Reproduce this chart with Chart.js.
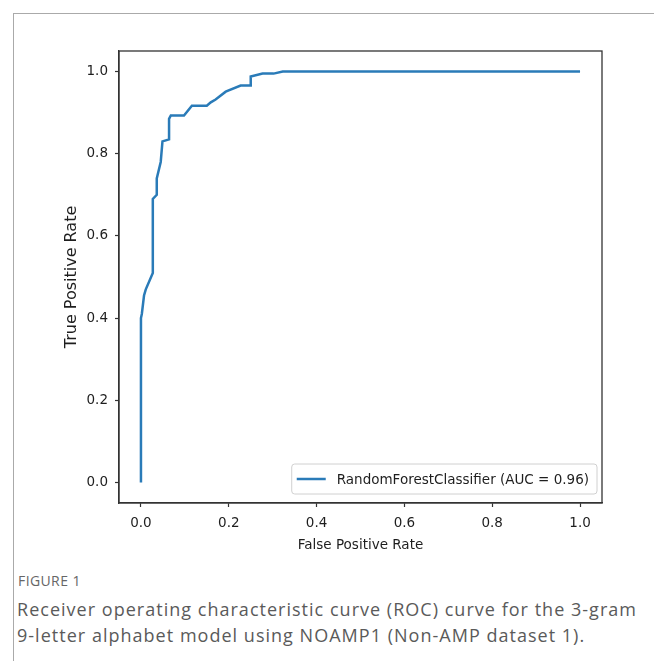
<!DOCTYPE html>
<html>
<head>
<meta charset="utf-8">
<script src="https://cdn.jsdelivr.net/npm/chart.js@4/dist/chart.umd.min.js"></script>
<style>
  html, body { margin: 0; padding: 0; background: #fff; width: 654px; height: 661px; overflow: hidden; }
  #card { position: absolute; left: 13px; top: 13px; width: 700px; height: 700px;
          border-left: 1.5px solid #aaa; border-top: 1.5px solid #aaa; }
  #wrap { position: absolute; left: 0; top: 0; width: 654px; height: 565px; }
  #fig { position: absolute; left: 18px; top: 571px; font-family: "Open Sans", sans-serif;
         font-size: 14px; color: #666; letter-spacing: 0.4px; }
  #cap { position: absolute; left: 17px; top: 596px; width: 640px; font-family: "Open Sans", sans-serif;
         font-size: 18px; line-height: 26px; color: #5a5a5a; letter-spacing: 1.02px; white-space: nowrap; }
</style>
</head>
<body>
<div id="card"></div>
<div id="wrap"><canvas id="c" width="654" height="565"></canvas></div>
<div id="fig">FIGURE 1</div>
<div id="cap">Receiver operating characteristic curve (ROC) curve for the 3-gram<br>9-letter alphabet model using NOAMP1 (Non-AMP dataset 1).</div>
<script>
// ROC curve values
const fpr = [0, 0, 0.002, 0.007, 0.011, 0.027, 0.027, 0.036, 0.036, 0.045, 0.049, 0.064, 0.064, 0.068, 0.098, 0.116, 0.150, 0.159, 0.170, 0.193, 0.227, 0.250, 0.250, 0.277, 0.302, 0.323, 1.0];
const tpr = [0, 0.40, 0.41, 0.455, 0.47, 0.51, 0.69, 0.70, 0.74, 0.78, 0.83, 0.835, 0.885, 0.893, 0.893, 0.917, 0.917, 0.925, 0.932, 0.951, 0.966, 0.966, 0.988, 0.995, 0.995, 1.0, 1.0];
const xTicks = [0.0, 0.2, 0.4, 0.6, 0.8, 1.0];
const yTicks = [0.0, 0.2, 0.4, 0.6, 0.8, 1.0];
const seriesLabel = "RandomForestClassifier (AUC = 0.96)";
const xTitle = "False Positive Rate";
const yTitle = "True Positive Rate";

const FONT = "DejaVu Sans";
const TXT = "#1e1e1e";
const AX = "#333";

const framePlugin = {
  id: "frame",
  afterDraw(chart) {
    const {ctx, chartArea: a} = chart;
    ctx.save();
    ctx.strokeStyle = AX;
    ctx.lineWidth = 1.3;
    ctx.strokeRect(a.left, a.top, a.right - a.left, a.bottom - a.top);
    // legend box (matplotlib style, lower right)
    const ds = chart.data.datasets[0];
    ctx.font = "13.5px '" + FONT + "'";
    const tw = ctx.measureText(ds.label).width;
    const bw = tw + 53, bh = 30;
    const bx = a.right - 5 - bw, by = a.bottom - 9 - bh;
    ctx.beginPath();
    ctx.roundRect(bx, by, bw, bh, 3);
    ctx.fillStyle = "rgba(255,255,255,0.85)";
    ctx.fill();
    ctx.strokeStyle = "#d0d0d0";
    ctx.lineWidth = 1;
    ctx.stroke();
    const cy = by + bh / 2;
    ctx.beginPath();
    ctx.moveTo(bx + 5, cy);
    ctx.lineTo(bx + 34, cy);
    ctx.strokeStyle = ds.borderColor;
    ctx.lineWidth = 2.5;
    ctx.stroke();
    ctx.fillStyle = TXT;
    ctx.textBaseline = "middle";
    ctx.textAlign = "left";
    ctx.fillText(ds.label, bx + 45, cy + 1);
    ctx.restore();
  }
};

new Chart(document.getElementById("c"), {
  type: "line",
  data: {
    datasets: [{
      label: seriesLabel,
      data: fpr.map((x, i) => ({x: x, y: tpr[i]})),
      borderColor: "#2a7bb8",
      borderWidth: 2.5,
      pointRadius: 0,
      tension: 0,
      fill: false
    }]
  },
  options: {
    responsive: false,
    animation: false,
    layout: { padding: { left: 0, top: 51, right: 52, bottom: 0 } },
    plugins: { legend: { display: false }, tooltip: { enabled: false } },
    scales: {
      x: {
        type: "linear", min: -0.05, max: 1.05,
        afterBuildTicks: s => { s.ticks = xTicks.map(v => ({value: v})); },
        afterFit: s => { s.height = 62; },
        grid: { display: true, drawOnChartArea: false, drawTicks: true, tickLength: 4, color: AX, tickWidth: 1.2 },
        border: { display: true, color: AX, width: 1.3 },
        ticks: { padding: 8, color: TXT, font: { family: FONT, size: 13.5 }, maxRotation: 0, callback: v => Number(v).toFixed(1) },
        title: { display: true, text: xTitle, color: TXT, font: { family: FONT, size: 13.5 }, padding: { top: 0, bottom: 11 } }
      },
      y: {
        type: "linear", min: -0.05, max: 1.05,
        afterBuildTicks: s => { s.ticks = yTicks.map(v => ({value: v})); },
        afterFit: s => { s.width = 119; },
        grid: { display: true, drawOnChartArea: false, drawTicks: true, tickLength: 4, color: AX, tickWidth: 1.2 },
        border: { display: true, color: AX, width: 1.3 },
        ticks: { padding: 7, color: TXT, font: { family: FONT, size: 13.5 }, callback: v => Number(v).toFixed(1) },
        title: { display: true, text: yTitle, color: TXT, font: { family: FONT, size: 16 }, padding: { top: 62, bottom: 0 } }
      }
    }
  },
  plugins: [framePlugin]
});
</script>
</body>
</html>
